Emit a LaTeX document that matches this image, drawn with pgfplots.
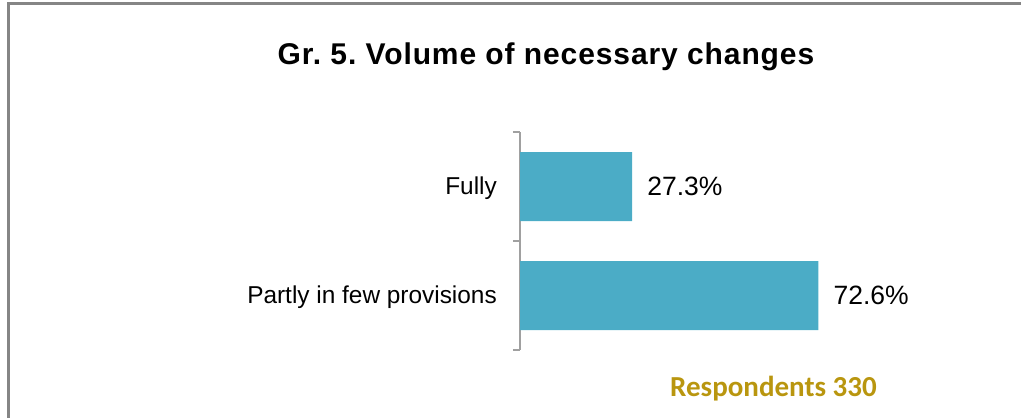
\documentclass[border=0pt]{standalone}
\usepackage{fontspec}
\usepackage{pgfplots}
\pgfplotsset{compat=1.18}
\setmainfont{Liberation Sans}
\newfontfamily\calibri{Carlito}
\definecolor{barblue}{RGB}{75,172,198}
\definecolor{framegray}{RGB}{133,133,133}
\definecolor{axgray}{RGB}{160,160,160}
\definecolor{gold}{RGB}{185,150,15}
\frenchspacing
\begin{document}
\begin{tikzpicture}
\useasboundingbox (0,0) rectangle (1021pt,418pt);
\draw[line width=3pt, framegray] (8pt,0) -- (8pt,414pt) -- (1021pt,414pt);
\node[anchor=base, font={\fontsize{30}{34}\selectfont\bfseries\addfontfeature{LetterSpace=3}}] at (546pt,353pt) {Gr. 5. Volume of necessary changes};
\begin{axis}[
  at={(520pt,68pt)}, anchor=south west,
  scale only axis, width=411pt, height=218pt,
  xmin=0, xmax=100, ymin=-0.5, ymax=1.5,
  y dir=reverse,
  xbar, bar width=69pt,
  axis x line=none,
  axis y line=left,
  axis line style={-, axgray, line width=1.6pt},
  ytick={0,1},
  yticklabels={Fully, Partly in few provisions},
  major tick length=0pt,
  minor ytick={-0.5,0.5,1.5},
  minor tick length=7pt,
  tick align=outside,
  tick style={axgray, line width=1.6pt},
  yticklabel style={font={\fontsize{24.4}{28}\selectfont}, anchor=east, inner sep=0pt, xshift=-23pt, yshift=-2pt},
  point meta=x,
  /pgf/number format/assume math mode=true,
  nodes near coords={\pgfmathprintnumber[fixed,precision=1,fixed zerofill,assume math mode=true]{\pgfplotspointmeta}\%},
  nodes near coords style={anchor=west, inner sep=0pt, xshift=15pt, font={\fontsize{26.5}{30}\selectfont}, black},
  clip=false,
]
\addplot[fill=barblue, draw=none] coordinates {(27.3,0) (72.6,1)};
\end{axis}
\node[anchor=base west, text=gold, font={\calibri\bfseries\fontsize{29}{33}\selectfont}, inner sep=0pt] at (670pt,21pt) {Respondents 330};
\end{tikzpicture}
\end{document}
